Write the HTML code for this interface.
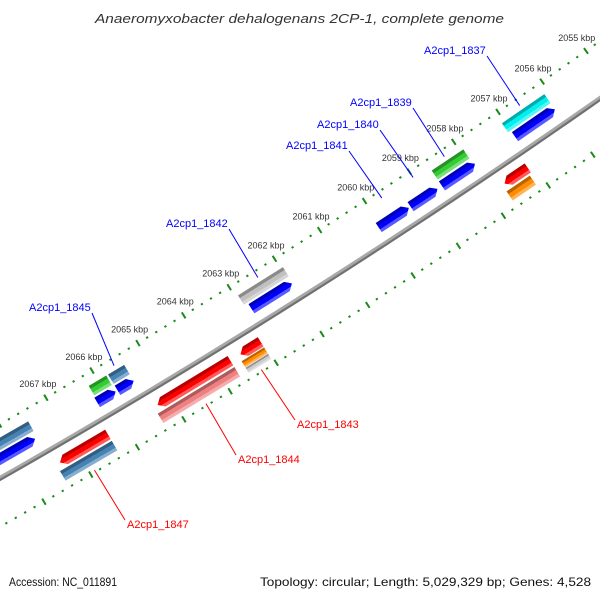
<!DOCTYPE html>
<html><head><meta charset="utf-8"><style>
html,body{margin:0;padding:0;background:#fff;}
svg{display:block;font-family:"Liberation Sans",sans-serif;}
</style></head><body>
<svg id="map" width="600" height="600" viewBox="0 0 600 600" xmlns="http://www.w3.org/2000/svg">
<defs></defs>
<rect width="600" height="600" fill="#fff"/>
<text x="95" y="23" textLength="409" lengthAdjust="spacingAndGlyphs" font-size="13" font-style="italic" fill="#333">Anaeromyxobacter dehalogenans 2CP-1, complete genome</text>
<g id="ticks"></g>
<g id="backbone"></g>
<g id="features"></g>
<g id="labels" font-size="11"></g>
<text x="9" y="586" font-size="12" textLength="108" lengthAdjust="spacingAndGlyphs" fill="#111">Accession: NC_011891</text>
<text x="260" y="586" font-size="12" textLength="331" lengthAdjust="spacingAndGlyphs" fill="#111">Topology: circular; Length: 5,029,329 bp; Genes: 4,528</text>
</svg>
<script>
const featStart=[2056.10,2057.93,2061.95,2065.43,2065.82,2067.51, 2056.10,2057.90,2058.74,2059.38,2061.97,2065.82,2065.43,2067.56, 2054.30,2057.13,2063.04,2063.70,2066.35, 2057.18,2063.04,2063.04,2063.70,2066.35];
const featEnd=[2057.06,2058.64,2062.94,2065.78,2066.20,2068.70, 2057.00,2058.64,2059.34,2060.05,2062.86,2066.22,2065.78,2068.70, 2055.50,2057.65,2063.48,2065.28,2067.38, 2057.70,2063.53,2063.53,2065.36,2067.46];
const featRow=[-30,-30,-30,-30,-30,-30, -17,-17,-17,-17,-17,-17,-17,-17, 16,16,16,16,16, 29,26,33,29,29];
const featKind=['bar','bar','bar','bar','bar','bar','fwd','fwd','fwd','fwd','fwd','fwd','fwd','fwd','rev','rev','rev','rev','rev','bar','bar','bar','bar','bar'];
const featColor=['#00f0f0','#33cc33','#c0c0c0','#4682b4','#33cc33','#4682b4','#0000ff','#0000ff','#0000ff','#0000ff','#0000ff','#0000ff','#0000ff','#0000ff','#ff0000','#ff0000','#ff0000','#ff0000','#ff0000','#ff8c00','#ff8c00','#cccccc','#f08080','#4682b4'];
const featH=[11,11,11,11,11,11,11,11,11,11,11,11,11,11,11,11,11,11,11,11,7,6,11,11];
const tickLabelsKbp=[2055,2056,2057,2058,2059,2060,2061,2062,2063,2064,2065,2066,2067];
const geneNames=['A2cp1_1837','A2cp1_1839','A2cp1_1840','A2cp1_1841','A2cp1_1842','A2cp1_1845','A2cp1_1843','A2cp1_1844','A2cp1_1847'];
const geneKbp=[2056.6,2058.3,2059.0,2059.7,2062.45,2065.6,2063.3,2064.5,2066.9];
const geneTextX=[424,350,317,286,166,29,297,238,127];
const geneTextY=[54,106,128,149,227,311,428,463,528];
const geneStrand=[1,1,1,1,1,1,-1,-1,-1];

const NS='http://www.w3.org/2000/svg';
const R=7616,CX=-3770,CY=-6139;
function phi(k){return (59.32+(k-2066)*0.405)*Math.PI/180;}
function pt(k,dr){const a=phi(k);return [CX+(R+dr)*Math.cos(a),CY+(R+dr)*Math.sin(a)];}
function mk(tag,attrs,parent){const e=document.createElementNS(NS,tag);for(const k in attrs)e.setAttribute(k,attrs[k]);parent.appendChild(e);return e;}
const defs=document.querySelector('defs');
function shade(hex,f){let r=parseInt(hex.substr(1,2),16),g=parseInt(hex.substr(3,2),16),b=parseInt(hex.substr(5,2),16);
 if(f<1){r*=f;g*=f;b*=f;}else{const t=f-1;r+=(255-r)*t;g+=(255-g)*t;b+=(255-b)*t;}
 return 'rgb('+Math.round(r)+','+Math.round(g)+','+Math.round(b)+')';}

const tg=document.getElementById('ticks');
for(let i=0;i<=80;i++){
 const k=2053+i*0.2; const major=(i%5===0);
 [-47,42].forEach(function(base){
  const l=major?3.5:1;
  const p1=pt(k,base-l),p2=pt(k,base+l);
  const t=mk('line',{x1:p1[0],y1:p1[1],x2:p2[0],y2:p2[1],stroke:'#1a8a1a','stroke-width':major?2:2.2},tg);
  
  
 });
}
tickLabelsKbp.forEach(function(k){
 const p=pt(k,-63);
 const t=mk('text',{x:p[0],y:p[1]+3,'text-anchor':'middle','font-size':'9',fill:'#333'},tg);
 t.textContent=k+' kbp';
 
 
});

const bb=document.getElementById('backbone');
let pts1=[],pts2=[];
for(let k=2052;k<=2070;k+=0.5){const a=pt(k,0),b=pt(k,1.3);pts1.push(a.join(','));pts2.push(b.join(','));}
const b1=mk('polyline',{points:pts1.join(' '),fill:'none',stroke:'#a8a8a8','stroke-width':5},bb);


const b2=mk('polyline',{points:pts2.join(' '),fill:'none',stroke:'#707070','stroke-width':2},bb);



const fg=document.getElementById('features');
for(let i=0;i<featStart.length;i++){
 const gid='g'+i;
 const gr=mk('linearGradient',{id:gid,x1:0,y1:0,x2:0,y2:1},defs);
 const c=featColor[i];
 [[0,shade(c,0.72)],[0.3,shade(c,0.72)],[0.3,c],[0.7,c],[0.7,shade(c,1.35)],[1,shade(c,1.35)]].forEach(function(s){mk('stop',{offset:s[0],'stop-color':s[1]},gr);});
 const kc=(featStart[i]+featEnd[i])/2;
 const p=pt(kc,featRow[i]);
 const ang=phi(kc)*180/Math.PI-90;
 const len=(R+featRow[i])*(phi(featEnd[i])-phi(featStart[i]));
 const h=featH[i],hl=len/2,hh=h/2,tip=Math.min(6,len*0.4);
 const g=mk('g',{transform:'translate('+p[0]+','+p[1]+') rotate('+ang+')'},fg);
 
 
 let poly;
 if(featKind[i]==='fwd'){
  poly=[[-hl,-hh],[hl-tip,-hh],[hl,0],[hl-tip,hh],[-hl,hh]];
 }else if(featKind[i]==='rev'){
  poly=[[-hl,0],[-hl+tip,-hh],[hl,-hh],[hl,hh],[-hl+tip,hh]];
 }else{
  poly=[[-hl,-hh],[hl,-hh],[hl,hh],[-hl,hh]];
 }
 const s=mk('polygon',{points:poly.map(q=>q.join(',')).join(' '),fill:'url(#'+gid+')'},g);
 
 
}

const lg=document.getElementById('labels');
for(let i=0;i<geneNames.length;i++){
 const col=geneStrand[i]>0?'#0000ff':'#ff0000';
 const tx=geneTextX[i],ty=geneTextY[i];
 const p=pt(geneKbp[i],geneStrand[i]>0?-40:40);
 const sx=geneStrand[i]>0?tx+geneNames[i].length*6+3:tx-2;
 const sy=geneStrand[i]>0?ty+2:ty-8;
 const ln=mk('line',{x1:sx,y1:sy,x2:p[0],y2:p[1],stroke:col,'stroke-width':1},lg);
 
 
 const t=mk('text',{x:tx,y:ty,fill:col},lg);
 t.textContent=geneNames[i];
 
 
}
</script>
</body></html>
